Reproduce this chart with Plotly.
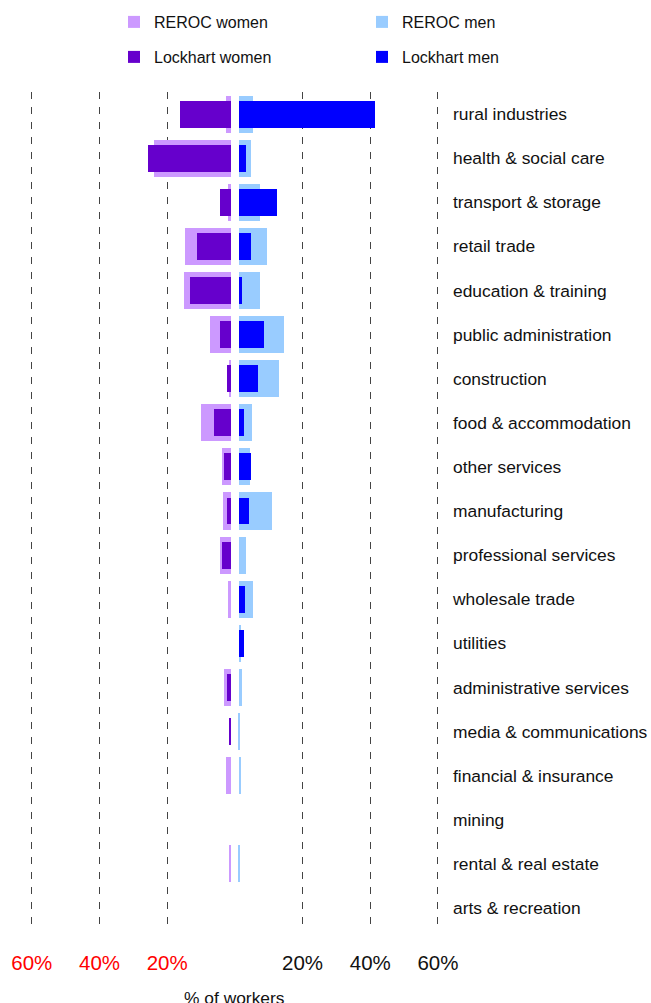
import plotly.graph_objects as go

# Industry categories, top to bottom
categories = [
    "rural industries", "health & social care", "transport & storage",
    "retail trade", "education & training", "public administration",
    "construction", "food & accommodation", "other services",
    "manufacturing", "professional services", "wholesale trade",
    "utilities", "administrative services", "media & communications",
    "financial & insurance", "mining", "rental & real estate",
    "arts & recreation",
]

# Share of workers (%) by industry
reroc_women = [1.5, 22.7, 0.9, 13.6, 13.9, 6.2, 0.6, 8.9, 2.7, 2.4,
               3.2, 0.9, 0.0, 2.1, 0.0, 1.5, 0.0, 0.6, 0.0]
lockhart_women = [15.0, 24.5, 3.2, 10.0, 12.1, 3.2, 1.2, 5.0, 2.1, 1.2,
                  2.7, 0.0, 0.0, 1.2, 0.3, 0.0, 0.0, 0.0, 0.0]
reroc_men = [4.1, 3.5, 6.2, 8.3, 6.2, 13.3, 11.8, 3.8, 3.2, 9.7,
             2.1, 4.1, 0.6, 0.9, 0.1, 0.6, 0.0, 0.1, 0.0]
lockhart_men = [40.2, 2.1, 11.2, 3.5, 0.9, 7.4, 5.6, 1.5, 3.5, 3.0,
                0.0, 1.8, 1.5, 0.0, 0.0, 0.0, 0.0, 0.0, 0.0]

tick_vals = [-60, -40, -20, 20, 40, 60]
tick_text = ["60%", "40%", "20%", "20%", "40%", "60%"]

# Small central gap between the women and men sides (in % units)
GAP = 1.2
FONT = "Liberation Sans, Arial, Helvetica, sans-serif"

# (name, values, sign, bar width, colour, legend id)
series = [
    ("REROC women", reroc_women, -1, 0.84, "#CC99FF", "legend"),
    ("REROC men", reroc_men, 1, 0.84, "#99CCFF", "legend2"),
    ("Lockhart women", lockhart_women, -1, 0.61, "#6600CC", "legend3"),
    ("Lockhart men", lockhart_men, 1, 0.61, "#0000FF", "legend4"),
]

fig = go.Figure()
for name, vals, sign, w, color, leg in series:
    fig.add_trace(go.Bar(
        name=name, y=categories, x=[sign * v for v in vals],
        base=sign * GAP, orientation="h", width=w,
        marker=dict(color=color, line=dict(width=0)), legend=leg,
    ))

colored_ticks = [
    f'<span style="color:#FF0000">{t}</span>' if v < 0 else t
    for v, t in zip(tick_vals, tick_text)
]


def legend_box(x_px, y_px):
    return dict(
        x=x_px / 651, y=1 - y_px / 1003,
        xref="container", yref="container",
        xanchor="left", yanchor="middle",
        font=dict(family=FONT, size=16, color="#111111"),
        bgcolor="rgba(0,0,0,0)", borderwidth=0,
        itemclick=False, itemdoubleclick=False,
    )


fig.update_layout(
    width=651, height=1003,
    margin=dict(l=0, r=208, t=92, b=73, autoexpand=False),
    paper_bgcolor="white", plot_bgcolor="white",
    barmode="overlay", bargap=0,
    font=dict(family=FONT, color="#111111"),
    showlegend=True,
    legend=legend_box(114, 22),
    legend2=legend_box(362, 22),
    legend3=legend_box(114, 57),
    legend4=legend_box(362, 57),
    xaxis=dict(
        range=[-69.4, 61.5],
        tickmode="array", tickvals=tick_vals, ticktext=colored_ticks,
        tickfont=dict(family=FONT, size=20.5, color="#111111"),
        showgrid=True, gridcolor="#444444", gridwidth=1, griddash="7px,8px",
        zeroline=False, showline=False, ticks="",
        ticklabelstandoff=18,
        fixedrange=True,
    ),
    yaxis=dict(
        side="right", autorange="reversed",
        categoryorder="array", categoryarray=categories,
        tickfont=dict(family=FONT, size=17.4, color="#111111"),
        showgrid=False, zeroline=False, showline=False, ticks="",
        ticklabelstandoff=9,
        fixedrange=True,
    ),
    annotations=[dict(
        text="% of workers", x=0, xref="x", y=-0.0665, yref="paper",
        xanchor="center", yanchor="top", showarrow=False,
        font=dict(family=FONT, size=17.4, color="#111111"),
    )],
)

fig.write_html("out.html")
